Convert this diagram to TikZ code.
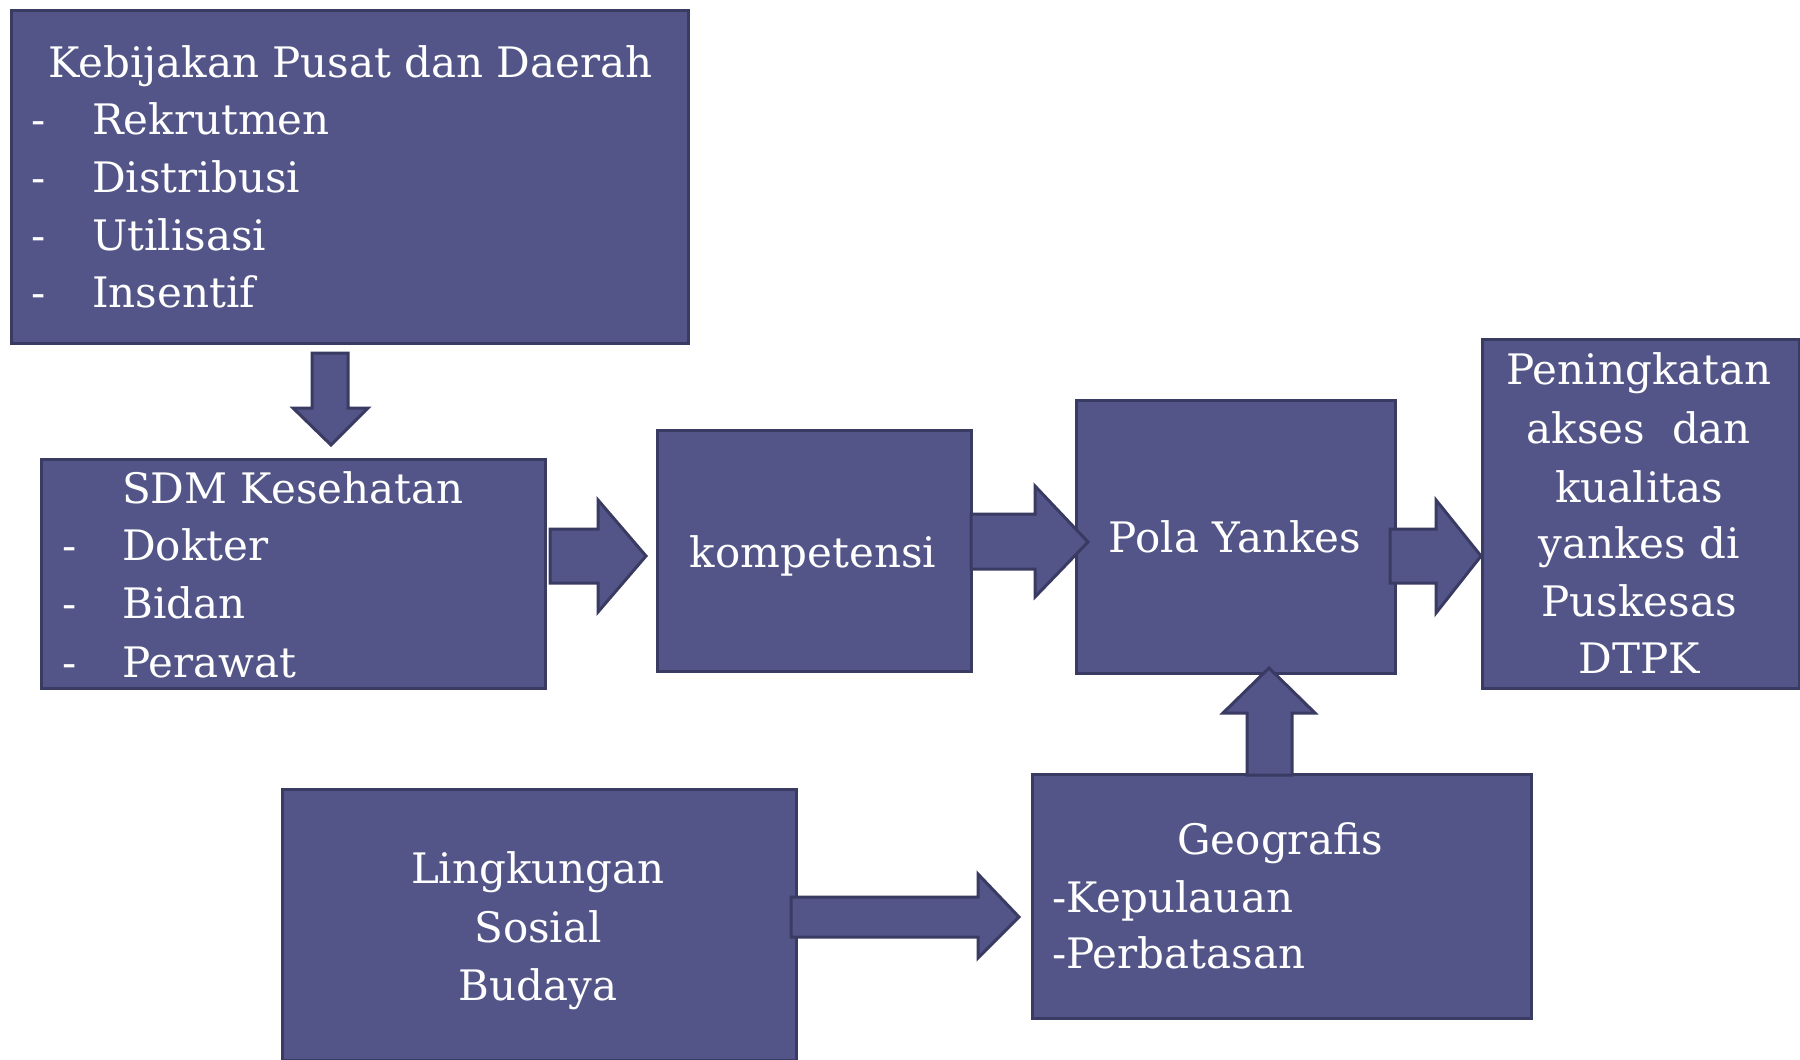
\documentclass[tikz,border=0pt]{standalone}
\usepackage{fontspec}
\setmainfont{DejaVu Serif}
\definecolor{boxfill}{RGB}{83,85,136}
\definecolor{boxline}{RGB}{58,59,98}
\begin{document}
\begin{tikzpicture}[x=1pt,y=-1pt,
  boxnode/.style={draw=boxline,fill=boxfill,line width=3pt,rectangle,inner sep=0pt},
  barrow/.style={draw=boxline,fill=boxfill,line width=3pt,line join=miter},
  txt/.style={text=white,inner sep=0pt,font=\fontsize{42}{50}\selectfont}]
\useasboundingbox (0,0) rectangle (1800,1060);
% boxes
\node[boxnode,minimum width=677pt,minimum height=333pt,anchor=north west] (kebijakan) at (10,9) {};
\node[boxnode,minimum width=504pt,minimum height=229pt,anchor=north west] (sdm) at (40,458) {};
\node[boxnode,minimum width=314pt,minimum height=241pt,anchor=north west] (komp) at (656,429) {};
\node[boxnode,minimum width=319pt,minimum height=273pt,anchor=north west] (pola) at (1075,399) {};
\node[boxnode,minimum width=317pt,minimum height=349pt,anchor=north west] (pen) at (1481,338) {};
\node[boxnode,minimum width=514pt,minimum height=271pt,anchor=north west] (ling) at (281,788) {};
\node[boxnode,minimum width=499pt,minimum height=244pt,anchor=north west] (geo) at (1031,773) {};
% block arrows
\draw[barrow] (312,353) -- (348,353) -- (348,408) -- (368,408) -- (331,445) -- (293,408) -- (312,408) -- cycle;
\draw[barrow] (550,529) -- (598,529) -- (598,500) -- (646,556) -- (598,612) -- (598,583) -- (550,583) -- cycle;
\draw[barrow] (971,514) -- (1035,514) -- (1035,486) -- (1088,542) -- (1035,597) -- (1035,569) -- (971,569) -- cycle;
\draw[barrow] (1390,529) -- (1436,529) -- (1436,500) -- (1481,556) -- (1436,613) -- (1436,583) -- (1390,583) -- cycle;
\draw[barrow] (1247,775) -- (1247,713) -- (1223,713) -- (1269,668) -- (1315,713) -- (1292,713) -- (1292,775) -- cycle;
\draw[barrow] (791,897) -- (978,897) -- (978,874) -- (1019,917) -- (978,958) -- (978,937) -- (791,937) -- cycle;
% texts: kebijakan
\node[txt,anchor=base west] (t1) at (48,77) {Kebijakan Pusat dan Daerah};
\node[txt,anchor=base west] (d1) at (31,134) {-};
\node[txt,anchor=base west] (t2) at (92,134) {Rekrutmen};
\node[txt,anchor=base west] (d2) at (31,192) {-};
\node[txt,anchor=base west] (t3) at (92,192) {Distribusi};
\node[txt,anchor=base west] (d3) at (31,250) {-};
\node[txt,anchor=base west] (t4) at (92,250) {Utilisasi};
\node[txt,anchor=base west] (d4) at (31,307) {-};
\node[txt,anchor=base west] (t5) at (92,307) {Insentif};
% sdm
\node[txt,anchor=base west] (s1) at (122,503) {SDM Kesehatan};
\node[txt,anchor=base west] (e1) at (62,560) {-};
\node[txt,anchor=base west] (s2) at (122,560) {Dokter};
\node[txt,anchor=base west] (e2) at (62,618) {-};
\node[txt,anchor=base west] (s3) at (122,618) {Bidan};
\node[txt,anchor=base west] (e3) at (62,677) {-};
\node[txt,anchor=base west] (s4) at (122,677) {Perawat};
% kompetensi / pola
\node[txt,anchor=base] (k1) at (813,567) {kompetensi};
\node[txt,anchor=base] (p1) at (1235,552) {Pola Yankes};
% peningkatan
\node[txt,anchor=base] (q1) at (1639,384) {Peningkatan};
\node[txt,anchor=base] (q2) at (1639,443) {akses\ \ dan};
\node[txt,anchor=base] (q3) at (1639,502) {kualitas};
\node[txt,anchor=base] (q4) at (1639,558) {yankes di};
\node[txt,anchor=base] (q5) at (1639,616) {Puskesas};
\node[txt,anchor=base] (q6) at (1639,673) {DTPK};
% lingkungan
\node[txt,anchor=base] (l1) at (538,883) {Lingkungan};
\node[txt,anchor=base] (l2) at (538,942) {Sosial};
\node[txt,anchor=base] (l3) at (538,1000) {Budaya};
% geografis
\node[txt,anchor=base] (g1) at (1280,854) {Geografis};
\node[txt,anchor=base west] (g2) at (1052,912) {-Kepulauan};
\node[txt,anchor=base west] (g3) at (1052,968) {-Perbatasan};
\end{tikzpicture}
\end{document}
